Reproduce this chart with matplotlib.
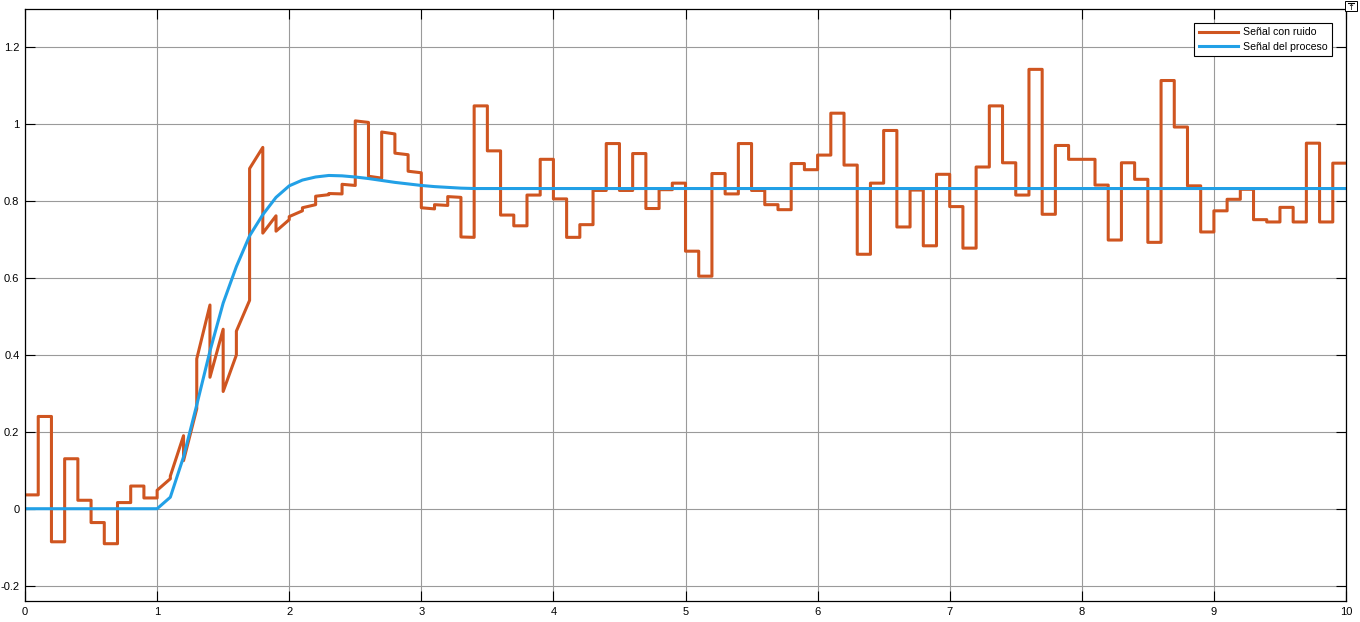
import numpy as np
import matplotlib
matplotlib.use("Agg")
import matplotlib.pyplot as plt
from matplotlib.patches import Rectangle
from matplotlib.lines import Line2D

plt.rcParams['font.family'] = ['Liberation Sans', 'DejaVu Sans']

# tiempo de muestreo del ruido: 0.1 s, 0..10 s
tiempo = np.linspace(0.0, 10.0, 101)

# salida del proceso leida cada 0.1 s
proceso = [
    0.000, 0.000, 0.000, 0.000, 0.000, 0.000, 0.000, 0.000, 0.000, 0.000,
    0.000, 0.030, 0.135, 0.270, 0.410, 0.535, 0.630, 0.710, 0.765, 0.810,
    0.840, 0.855, 0.863, 0.867, 0.866, 0.863, 0.859, 0.854, 0.849, 0.845,
    0.841, 0.838, 0.836, 0.834, 0.833, 0.833, 0.833, 0.833, 0.833, 0.833,
    0.833, 0.833, 0.833, 0.833, 0.833, 0.833, 0.833, 0.833, 0.833, 0.833,
    0.833, 0.833, 0.833, 0.833, 0.833, 0.833, 0.833, 0.833, 0.833, 0.833,
    0.833, 0.833, 0.833, 0.833, 0.833, 0.833, 0.833, 0.833, 0.833, 0.833,
    0.833, 0.833, 0.833, 0.833, 0.833, 0.833, 0.833, 0.833, 0.833, 0.833,
    0.833, 0.833, 0.833, 0.833, 0.833, 0.833, 0.833, 0.833, 0.833, 0.833,
    0.833, 0.833, 0.833, 0.833, 0.833, 0.833, 0.833, 0.833, 0.833, 0.833,
    0.833,
]

# ruido retenido en cada intervalo de 0.1 s
ruido = [
    0.036, 0.240, -0.086, 0.130, 0.022, -0.036, -0.091, 0.016, 0.059, 0.028,
    0.048, 0.055, -0.010, 0.120, -0.068, -0.230, -0.168, 0.175, -0.048, -0.088,
    -0.080, -0.072, -0.050, -0.047, -0.022, 0.146, 0.006, 0.126, 0.076, 0.033,
    -0.058, -0.047, -0.024, -0.127, 0.215, 0.098, -0.069, -0.097, -0.017, 0.076,
    -0.027, -0.127, -0.094, -0.005, 0.117, -0.005, 0.091, -0.052, -0.003, 0.014,
    -0.163, -0.228, 0.039, -0.014, 0.117, -0.005, -0.042, -0.055, 0.065, 0.049,
    0.087, 0.196, 0.061, -0.171, 0.014, 0.151, -0.100, -0.004, -0.149, 0.037,
    -0.047, -0.155, 0.056, 0.215, 0.067, -0.017, 0.310, -0.067, 0.112, 0.076,
    0.076, 0.009, -0.134, 0.067, 0.024, -0.140, 0.281, 0.160, 0.007, -0.113,
    -0.058, -0.028, -0.002, -0.081, -0.087, -0.049, -0.087, 0.118, -0.087, 0.066,
]

x_ticks = [0, 1, 2, 3, 4, 5, 6, 7, 8, 9, 10]
y_ticks = [-0.2, 0, 0.2, 0.4, 0.6, 0.8, 1, 1.2]
y_labels = ["-0.2", "0", "0.2", "0.4", "0.6", "0.8", "1", "1.2"]

# senal con ruido = proceso + ruido retenido
xs, ys = [], []
for k, n in enumerate(ruido):
    xs += [tiempo[k], tiempo[k + 1]]
    ys += [proceso[k] + n, proceso[k + 1] + n]

fig = plt.figure(figsize=(13.6, 6.22), dpi=100)
ax = fig.add_axes([0.0184, 0.0338, 0.9713, 0.9517])

ax.plot(xs, ys, color="#CF5520", lw=2.2, label="Señal con ruido")
ax.plot(tiempo, proceso, color="#22A0E6", lw=2.2, label="Señal del proceso")

ax.set_xlim(0, 10)
ax.set_ylim(-0.24, 1.3)
ax.set_xticks(x_ticks)
ax.set_xticklabels([str(v) for v in x_ticks])
ax.set_yticks(y_ticks)
ax.set_yticklabels(y_labels)
ax.tick_params(direction="in", length=7, width=0.8, labelsize=8, top=True, right=True,
               pad=4, colors="black")
ax.grid(True, color="#9a9a9a", lw=0.8)
ax.set_axisbelow(True)
for s in ax.spines.values():
    s.set_color("black")
    s.set_linewidth(0.9)

leg = ax.legend(loc="upper right", bbox_to_anchor=(0.9894, 0.977), fontsize=7.6,
                frameon=True, fancybox=False, framealpha=1, edgecolor="black",
                handlelength=3.7, borderpad=0.45, labelspacing=0.4, handletextpad=0.45,
                borderaxespad=0)
leg.get_frame().set_linewidth(0.8)

# boton de la esquina del visor (caja con flecha)
fig.patches.append(Rectangle((1345 / 1360, 1 - 11 / 622), 12 / 1360, 10 / 622,
                             transform=fig.transFigure, fc="white", ec="black", lw=0.7))
fig.lines.append(Line2D([1348 / 1360, 1354 / 1360], [1 - 3 / 622, 1 - 3 / 622],
                        transform=fig.transFigure, color="black", lw=0.8))
fig.text(1351 / 1360, 1 - 7 / 622, "↑", fontsize=6, ha="center", va="center",
         family=["DejaVu Sans"])

fig.savefig("out.png", dpi=100)
